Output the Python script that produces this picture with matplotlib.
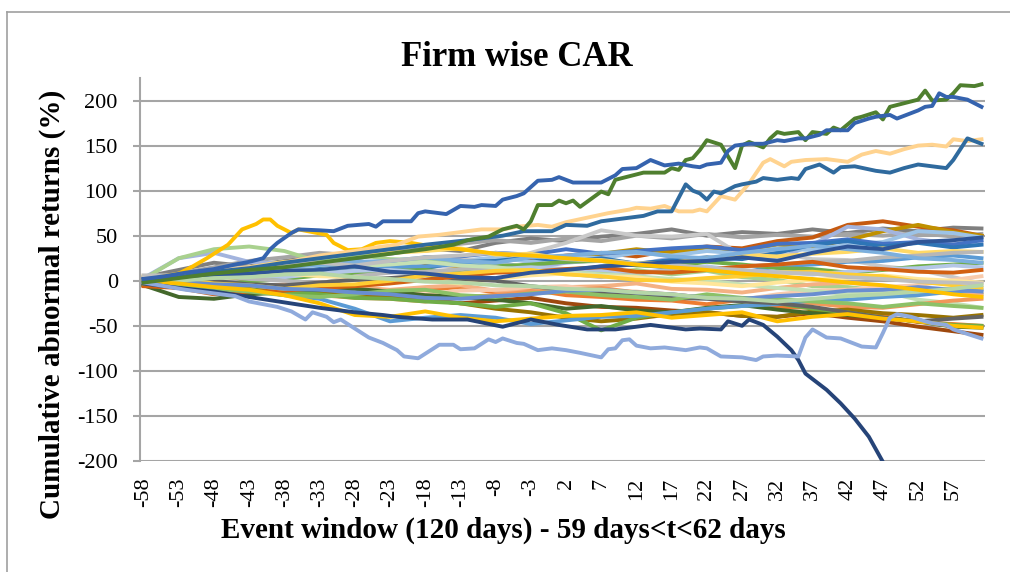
import matplotlib
matplotlib.use("Agg")
import matplotlib.pyplot as plt
from matplotlib.lines import Line2D

plt.rcParams['font.family'] = ['Liberation Serif', 'DejaVu Serif']
plt.rcParams['axes.unicode_minus'] = False

# ---- data (CAR in %) ----
# crowded band of firms, sampled every 5 days
days = [-58, -53, -48, -43, -38, -33, -28, -23, -18, -13, -8, -3, 2, 7, 12,
        17, 22, 27, 32, 37, 42, 47, 52, 57, 61]

f01 = [4, 12, 20, 16, 22, 27, 25, 30, 36, 33, 42, 47, 44, 49, 52, 57, 50, 54, 52, 57, 53, 58, 55, 59, 58]
f02 = [2, 8, 15, 22, 26, 31, 28, 35, 33, 41, 45, 42, 47, 44, 50, 47, 52, 48, 51, 49, 52, 50, 53, 49, 52]
f03 = [-2, -4, 3, 7, 12, 9, 15, 17, 23, 20, 25, 22, 28, 31, 27, 34, 38, 36, 44, 48, 62, 66, 60, 56, 50]
f04 = [0, -3, 5, 2, 9, 13, 8, 15, 19, 16, 25, 29, 24, 30, 35, 31, 37, 33, 40, 38, 45, 55, 62, 54, 50]
f05 = [3, 25, 31, 21, 19, 14, 12, 9, 15, 18, 21, 14, 20, 23, 18, 25, 21, 26, 24, 40, 60, 57, 46, 41, 42]
f06 = [1, 6, 10, 7, 13, 15, 19, 15, 21, 22, 26, 21, 27, 25, 31, 28, 33, 30, 36, 34, 40, 43, 55, 53, 48]
f07 = [0, 5, 1, 9, 12, 8, 16, 11, 21, 24, 20, 31, 42, 56, 50, 49, 52, 28, 31, 24, 23, 16, 12, 4, -3]
f08 = [2, 6, 8, 13, 15, 19, 22, 18, 26, 27, 31, 29, 35, 30, 33, 36, 38, 34, 41, 42, 46, 41, 43, 40, 45]
f09 = [0, 3, 7, 10, 7, 13, 15, 19, 14, 21, 22, 26, 21, 25, 19, 23, 26, 24, 31, 40, 44, 38, 42, 37, 40]
f10 = [5, 4, 11, 15, 21, 22, 26, 31, 33, 36, 29, 30, 24, 23, 19, 20, 25, 29, 27, 30, 32, 36, 31, 33, 32]
f11 = [2, 25, 35, 38, 33, 21, 29, 24, 23, 19, 18, 14, 13, 9, 12, 7, 11, 4, 1, -6, -7, -11, -12, -9, -15]
f12 = [0, 2, 6, 8, 11, 12, 9, 15, 16, 19, 14, 12, 9, 16, 18, 14, 12, 9, 16, 18, 21, 22, 26, 28, 25]
f13 = [-3, -4, -5, -1, 2, 6, 7, 11, 12, 9, 16, 18, 21, 22, 17, 16, 21, 18, 14, 13, 9, 12, 16, 18, 20]
f14 = [-5, -5, -9, -5, -11, -12, -16, -11, -10, -7, -13, -10, -16, -18, -21, -22, -26, -21, -29, -30, -36, -39, -46, -48, -50]
f15 = [0, -2, -6, -8, -4, -2, -7, -10, -7, -5, -11, -12, -7, -6, -3, -9, -10, -13, -8, -4, -2, -6, -10, -13, -15]
f16 = [-2, -4, -7, -10, -13, -9, -8, -13, -15, -11, -10, -7, -6, -11, -12, -16, -18, -21, -15, -11, -10, -7, -5, 1, 5]
f17 = [0, 2, 5, 6, 4, 8, 11, 12, 9, 8, 13, 15, 13, 12, 9, 12, 16, 11, 10, 7, 10, 13, 14, 17, 15]
f18 = [3, 3, 6, 2, 0, -3, 5, 9, 10, 13, 15, 9, 8, 4, 8, 11, 12, 16, 18, 21, 22, 26, 28, 31, 32]
f19 = [0, 2, 6, 8, 11, 12, 16, 18, 21, 17, 15, 11, 10, 7, 5, 2, 0, -4, -8, -11, -15, -12, -21, -25, -30]
f20 = [-1, 1, 4, 5, 8, 5, 4, 1, 0, -3, 2, 6, 8, 5, 4, -1, -3, -6, -2, 1, 3, 6, 2, 0, -2]
f21 = [-4, -6, -11, -12, -15, -16, -19, -20, -23, -18, -16, -12, -11, -8, -13, -15, -19, -20, -23, -25, -29, -30, -26, -22, -20]
f22 = [-3, -5, -11, -8, -13, -10, -16, -18, -21, -25, -22, -19, -25, -29, -30, -33, -35, -39, -40, -36, -41, -45, -51, -56, -60]
f23 = [0, -3, -6, -8, -11, -12, -16, -18, -21, -25, -31, -35, -41, -45, -42, -37, -35, -39, -40, -34, -32, -36, -38, -41, -38]
f24 = [-5, -18, -20, -15, -13, -10, -9, -12, -16, -18, -21, -25, -31, -28, -33, -35, -30, -27, -32, -36, -38, -41, -45, -51, -52]
f25 = [0, -2, -6, -10, -13, -15, -19, -20, -23, -25, -29, -25, -36, -55, -41, -35, -31, -28, -25, -31, -35, -41, -45, -49, -50]
f26 = [-2, -3, -7, -10, -16, -20, -31, -45, -41, -38, -41, -48, -44, -40, -39, -35, -31, -28, -26, -22, -21, -18, -16, -12, -10]
f27 = [1, 2, 0, -4, -5, -2, 1, 3, 6, 2, 0, -6, -10, -13, -15, -19, -20, -23, -25, -29, -35, -41, -45, -42, -40]
f28 = [0, 4, 9, 12, 16, 18, 21, 22, 26, 22, 20, 26, 28, 31, 32, 27, 25, 31, 35, 39, 35, 31, 25, 23, 20]
f29 = [-6, -8, -15, -12, -11, -8, -6, -3, 1, 5, 9, 10, 13, 15, 10, 9, 12, 16, 18, 21, 15, 13, 10, 9, 12]
f30 = [0, 2, -3, -5, -9, -5, -4, 0, 6, 8, 11, 12, 7, 5, 1, 0, 3, 5, 9, 10, 7, 5, -1, -5, -8]
f31 = [-3, -4, -9, -12, -16, -18, -15, -11, -10, -16, -18, -14, -12, -16, -18, -21, -15, -19, -20, -23, -25, -29, -25, -28, -30]
f32 = [6, 6, 13, 15, 19, 20, 17, 22, 26, 28, 31, 28, 24, 22, 19, 18, 14, 12, 9, 8, 4, 2, -1, -2, -3]
f33 = [0, -1, -4, -5, -9, -10, -13, -15, -19, -20, -17, -15, -11, -10, -13, -15, -19, -20, -17, -15, -11, -10, -7, -10, -12]
f34 = [2, 3, 6, 8, 11, 12, 16, 10, 8, 4, 3, 9, 12, 16, 18, 21, 22, 26, 22, 31, 38, 35, 43, 45, 48]
f35 = [0, 0, 3, 4, 7, 8, 4, 2, -1, -2, -5, -6, -9, -10, -13, -15, -19, -20, -23, -20, -17, -15, -12, -9, -5]
f36 = [-1, -3, -7, -10, -16, -25, -38, -40, -34, -41, -45, -42, -39, -38, -35, -41, -38, -35, -45, -40, -37, -42, -45, -50, -52]

band = [(f01, '#7F7F7F'), (f02, '#A5A5A5'), (f03, '#C55A11'), (f04, '#BF9000'),
        (f05, '#A3B4DE'), (f06, '#9DC3E6'), (f07, '#C9C9C9'), (f08, '#4472C4'),
        (f09, '#2E75B6'), (f10, '#FFD966'), (f11, '#A9D18E'), (f12, '#5B9BD5'),
        (f13, '#70AD47'), (f14, '#ED7D31'), (f15, '#F4B183'), (f16, '#F8CBAD'),
        (f17, '#B4C7E7'), (f18, '#B7B7B7'), (f19, '#C5E0B4'), (f20, '#FFE699'),
        (f21, '#F1975A'), (f22, '#9E480E'), (f23, '#997300'), (f24, '#43682B'),
        (f25, '#70AD47'), (f26, '#5B9BD5'), (f27, '#636363'), (f28, '#7CAFDD'),
        (f29, '#D26012'), (f30, '#FFCD33'), (f31, '#8CC168'), (f32, '#BFBFBF'),
        (f33, '#698ED0'), (f34, '#2F5597'), (f35, '#B5D6A7'), (f36, '#FFC000')]

# firms that leave the band
blue_days = [-58, -55, -52, -48, -45, -43, -41, -40, -39, -37, -36, -33, -31, -29, -26, -25, -24,
             -20, -19, -18, -15, -13, -11, -10, -8, -7, -5, -4, -2, 0, 1, 3, 7, 9, 10, 12, 14,
             15, 16, 18, 20, 21, 22, 24, 25, 26, 28, 30, 32, 33, 35, 36, 38, 39, 42, 43, 45,
             46, 48, 49, 51, 52, 53, 54, 55, 56, 57, 59, 60, 61]
blue_car = [2, 5, 9, 13, 18, 21, 25, 35, 42, 53, 57, 56, 55, 61, 63, 60, 66,
            66, 75, 77, 74, 83, 82, 84, 83, 90, 94, 97, 111, 112, 115, 109, 109, 117, 124, 125, 134,
            131, 128, 130, 127, 126, 129, 131, 144, 150, 152, 152, 156, 155, 158, 158, 162, 167, 167, 175, 180,
            182, 184, 180, 186, 189, 193, 194, 208, 204, 204, 201, 197, 193]

green_days = [-58, -53, -48, -43, -38, -33, -28, -23, -18, -14, -12, -9, -7, -5, -4, -3, -2, 0, 1,
              2, 3, 4, 7, 8, 9, 12, 13, 16, 17, 18, 19, 20, 21, 22, 24, 26, 27, 28, 30, 31, 32,
              33, 35, 36, 37, 39, 40, 41, 43, 44, 46, 47, 48, 50, 52, 53, 54, 56, 57, 58, 60, 61]
green_car = [-2, 3, 8, 12, 15, 20, 25, 30, 35, 40, 45, 49, 57, 61, 57, 66, 84, 84, 89,
             86, 89, 82, 99, 96, 112, 118, 120, 120, 125, 123, 134, 136, 145, 156, 151, 125, 150, 154, 148, 158, 165,
             163, 165, 156, 165, 163, 170, 167, 180, 182, 187, 179, 193, 197, 201, 211, 200, 201, 208, 217, 216, 218]

steel_days = [-58, -53, -48, -43, -38, -33, -28, -23, -18, -12, -7, -4, 0, 2, 5, 7, 9, 12, 13, 15,
              17, 19, 20, 21, 22, 23, 24, 26, 27, 29, 30, 32, 34, 35, 36, 38, 40, 41, 43, 46, 48,
              50, 52, 55, 56, 57, 59, 60, 61]
steel_car = [0, 4, 10, 14, 20, 25, 30, 35, 40, 45, 50, 55, 55, 62, 61, 66, 68, 71, 72, 77,
             77, 107, 100, 97, 90, 99, 97, 105, 107, 110, 114, 112, 114, 113, 124, 129, 120, 126, 127, 122, 120,
             125, 129, 126, 125, 134, 158, 155, 152]

peach_days = [-58, -53, -48, -43, -38, -33, -28, -25, -22, -19, -16, -13, -10, -7, -5, -2, 0, 2, 5,
              8, 11, 12, 14, 16, 18, 20, 21, 22, 24, 26, 28, 30, 31, 33, 34, 36, 39, 42, 44, 46,
              48, 50, 52, 54, 56, 57, 59, 61]
peach_car = [0, 5, 10, 15, 20, 28, 33, 37, 40, 49, 51, 54, 57, 57, 60, 62, 60, 65, 70,
             75, 79, 81, 80, 83, 77, 77, 79, 77, 94, 90, 108, 131, 135, 127, 132, 134, 135, 132, 140, 144,
             141, 146, 150, 151, 149, 157, 155, 157]

navy_days = [-58, -53, -48, -43, -38, -33, -28, -24, -22, -17, -12, -7, -3, 1, 5, 9, 12, 14, 19, 21,
             24, 25, 27, 28, 30, 32, 34, 35, 36, 39, 41, 43, 45, 47, 49, 51, 53, 55, 57, 59, 61]
navy_car = [-3, -8, -12, -18, -24, -30, -35, -38, -40, -43, -43, -51, -43, -49, -54, -54, -51, -49, -54, -53,
            -54, -45, -50, -43, -49, -62, -77, -88, -103, -121, -136, -153, -173, -201, -222, -240, -255, -268, -280, -290, -300]

peri_days = [-58, -55, -52, -48, -45, -43, -39, -37, -35, -34, -32, -31, -30, -28, -26, -24, -22, -21,
             -19, -16, -14, -13, -11, -9, -8, -7, -5, -4, -2, 0, 2, 4, 7, 8, 9, 10, 11, 12, 14,
             16, 19, 21, 22, 24, 27, 29, 30, 32, 35, 36, 37, 39, 41, 44, 46, 47, 48, 49, 51, 53,
             54, 56, 57, 59, 61]
peri_car = [-2, -6, -10, -14, -17, -23, -29, -34, -43, -35, -40, -46, -43, -53, -63, -69, -77, -84,
            -86, -71, -71, -76, -75, -65, -68, -64, -69, -70, -77, -75, -77, -80, -85, -76, -75, -66, -65, -72, -75,
            -74, -77, -74, -75, -84, -85, -88, -84, -83, -84, -63, -54, -63, -64, -73, -74, -58, -41, -37, -40, -45,
            -47, -49, -54, -59, -64]

gold_days = [-58, -55, -53, -51, -49, -46, -44, -42, -41, -40, -39, -37, -36, -34, -32, -31, -29, -27,
             -25, -23, -20, -17, -13, -8, -3, 2, 7, 12, 17, 22, 27, 32, 37, 42, 47, 52, 57, 61]
gold_car = [0, 5, 8, 16, 25, 40, 57, 63, 68, 68, 61, 53, 57, 54, 51, 42, 34, 35,
            42, 44, 42, 38, 35, 30, 28, 25, 22, 18, 15, 12, 8, 5, 2, -2, -5, -10, -15, -18]

movers = [(gold_days, gold_car, '#FFC000'), (navy_days, navy_car, '#264478'),
          (peri_days, peri_car, '#8FAADC'), (peach_days, peach_car, '#FFD38F'),
          (steel_days, steel_car, '#2F6A9E'), (green_days, green_car, '#4F7F2F'),
          (blue_days, blue_car, '#3563AE')]

# ---- figure ----
fig = plt.figure(figsize=(10.1, 5.72), dpi=100)
ax = fig.add_axes([140 / 1010, 1 - 461 / 572, 845 / 1010, 383 / 572])

for vals, col in band:
    ax.plot(days, vals, color=col, lw=2.8, solid_joinstyle='round')
for d, v, col in movers:
    ax.plot(d, v, color=col, lw=2.8, solid_joinstyle='round')

ax.set_xlim(-58.5, 61.5)
ax.set_ylim(-200, 225)
ax.set_yticks(range(-200, 201, 50))
ax.set_xticks(range(-58, 58, 5))
ax.yaxis.grid(True, color='#A5A5A5', lw=1.5)
ax.set_axisbelow(True)
for s in ['top', 'right', 'bottom']:
    ax.spines[s].set_visible(False)
ax.spines['left'].set_color('#A5A5A5')
ax.spines['left'].set_linewidth(1.5)
ax.tick_params(axis='y', length=5, width=1.5, color='#A5A5A5', pad=11, labelsize=16)
ax.tick_params(axis='x', length=0, pad=12, labelsize=16, labelrotation=90)

fig.text(517 / 1010, 1 - 66 / 572, 'Firm wise CAR', ha='center', va='baseline',
         fontsize=25, fontweight='bold')
fig.text(503 / 1010, 1 - 538 / 572, 'Event window (120 days) - 59 days<t<62 days',
         ha='center', va='baseline', fontsize=21, fontweight='bold')
fig.text(52 / 1010, 1 - 304 / 572, 'Cumulative abnormal returns (%)', ha='center',
         va='center', rotation=90, fontsize=21, fontweight='bold')

# chart frame (cut off on the right and bottom)
fig.add_artist(Line2D([7 / 1010, 1], [1 - 12 / 572, 1 - 12 / 572], color='#A0A0A0', lw=1.2))
fig.add_artist(Line2D([7 / 1010, 7 / 1010], [0, 1 - 12 / 572], color='#A0A0A0', lw=1.2))

fig.savefig('out.png', dpi=100)
